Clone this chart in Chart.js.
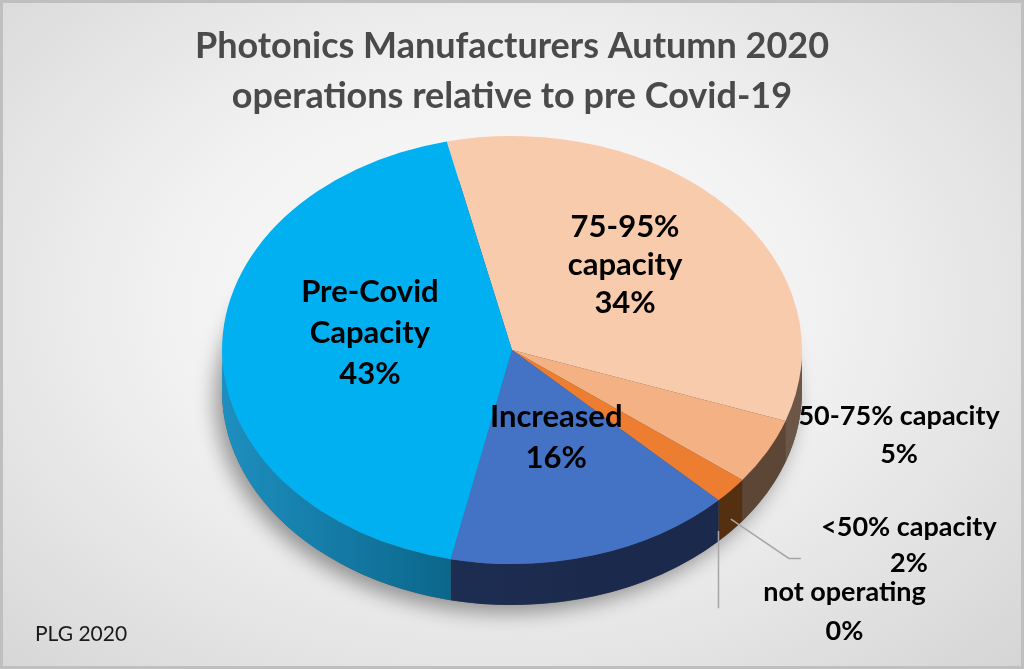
<!DOCTYPE html>
<html>
<head>
<meta charset="utf-8">
<script src="https://cdn.jsdelivr.net/npm/chart.js@4.4.0/dist/chart.umd.min.js"></script>
<style>
  html, body { margin: 0; padding: 0; }
  #wrap {
    position: relative; width: 1024px; height: 669px;
    background: radial-gradient(ellipse 72% 78% at 48% 45%, #fdfdfd 0%, #f1f1f1 45%, #d5d5d5 100%);
  }
  #frame {
    position: absolute; left: 0; top: 0; width: 1024px; height: 669px;
    box-sizing: border-box; border: 3px solid #bfbfbf; pointer-events: none;
  }
  canvas { position: absolute; left: 0; top: 0; }
</style>
</head>
<body>
<div id="wrap">
  <canvas id="chartPie" width="1024" height="669"></canvas>
  <div id="frame"></div>
</div>
<script>
// datos del grafico
const titleLines = ["Photonics Manufacturers Autumn 2020", "operations relative to pre Covid-19"];
const sourceNote = "PLG 2020";
const categories = ["75-95% capacity", "50-75% capacity", "<50% capacity", "not operating", "Increased", "Pre-Covid Capacity"];
const labelLines = [["75-95%", "capacity"], ["50-75% capacity"], ["<50% capacity"], ["not operating"], ["Increased"], ["Pre-Covid", "Capacity"]];
const shares = [34, 5, 2, 0, 16, 43];

// estilos
const topColors = ["#F8CBAD", "#F4B183", "#ED7D31", "#A5A5A5", "#4472C4", "#00B0F0"];
const sideColors = [
  ["#7d6657", "#6c5647"],
  ["#6e5444", "#5e4636"],
  ["#6b3c17", "#553010"],
  ["#555555", "#444444"],
  ["#21325c", "#1b2a4c"],
  ["#1d8fc0", "#004c68"],
];
const TILT = 0.738;   // aplastamiento vertical
const DEPTH = 41;     // grosor del pastel en px
// colocacion de etiquetas: f = fraccion del radio, dx/dy = ajuste en px
const labelPlacement = [
  { f: 0.523, dx: 0, dy: -10, size: 31, gap: 38 },
  { f: 1, dx: 132, dy: -16, size: 27, gap: 38 },
  { f: 1, dx: 178, dy: 55, size: 27, gap: 36, leader: "elbow" },
  { f: 1, dx: 126, dy: 112, size: 27, gap: 39, leader: "drop" },
  { f: 0.425, dx: 9, dy: 0, size: 31, gap: 41 },
  { f: 0.49, dx: 0, dy: -18, size: 31, gap: 41 },
];

const el = (id) => document.getElementById(id);

const pie3d = {
  id: "pie3d",
  beforeDatasetsDraw(chart) {
    const ctx = chart.ctx;
    const arcs = chart.getDatasetMeta(0).data;
    const { x, y, outerRadius: r } = arcs[0];
    const d = DEPTH / TILT;
    ctx.save();
    ctx.translate(x, y);
    ctx.scale(1, TILT);
    ctx.translate(-x, -y);
    // sombra
    ctx.save();
    ctx.shadowColor = "rgba(0,0,0,0.38)";
    ctx.shadowBlur = 20;
    ctx.shadowOffsetX = -7;
    ctx.shadowOffsetY = 8;
    ctx.beginPath();
    ctx.arc(x, y + d, r, 0, Math.PI * 2);
    ctx.fillStyle = "#555";
    ctx.fill();
    ctx.restore();
    // lados
    arcs.forEach((arc, i) => {
      const a0 = Math.max(arc.startAngle, 0);
      const a1 = Math.min(arc.endAngle, Math.PI);
      if (a1 <= a0) return;
      const g = ctx.createLinearGradient(x - r, 0, x + r * 0.3, 0);
      g.addColorStop(0, sideColors[i][0]);
      g.addColorStop(1, sideColors[i][1]);
      ctx.beginPath();
      ctx.arc(x, y, r, a0, a1);
      ctx.arc(x, y + d, r, a1, a0, true);
      ctx.closePath();
      ctx.fillStyle = g;
      ctx.fill();
    });
  },
  afterDatasetsDraw(chart) {
    chart.ctx.restore();
  },
  afterDraw(chart) {
    const ctx = chart.ctx;
    const arcs = chart.getDatasetMeta(0).data;
    ctx.save();
    ctx.textAlign = "center";
    ctx.textBaseline = "middle";
    // titulo
    ctx.fillStyle = "#4a4a4a";
    ctx.font = "bold 36px Lato";
    titleLines.forEach((t, i) => ctx.fillText(t, 512, 46 + i * 50));
    // etiquetas
    arcs.forEach((arc, i) => {
      const p = labelPlacement[i];
      const mid = (arc.startAngle + arc.endAngle) / 2;
      const r = arc.outerRadius;
      const rimX = arc.x + r * Math.cos(mid);
      const rimY = arc.y + r * TILT * Math.sin(mid);
      const cx = arc.x + p.f * r * Math.cos(mid) + p.dx;
      const cy = arc.y + p.f * r * TILT * Math.sin(mid) + p.dy;
      const lines = labelLines[i].concat([shares[i] + "%"]);
      if (p.leader) {
        ctx.strokeStyle = "#a6a6a6";
        ctx.lineWidth = 1.5;
        ctx.beginPath();
        if (p.leader === "elbow") {
          ctx.moveTo(rimX, rimY + DEPTH * 0.7);
          ctx.lineTo(cx - 120, cy + 13);
          ctx.lineTo(cx - 108, cy + 13);
        } else {
          ctx.moveTo(rimX, rimY + DEPTH * 0.75);
          ctx.lineTo(rimX, cy - 4);
        }
        ctx.stroke();
      }
      ctx.fillStyle = "#000000";
      ctx.font = "bold " + p.size + "px Lato";
      const y0 = cy - (p.gap * (lines.length - 1)) / 2;
      lines.forEach((t, j) => ctx.fillText(t, cx, y0 + j * p.gap));
    });
    // fuente
    ctx.textAlign = "left";
    ctx.fillStyle = "#1a1a1a";
    ctx.font = "21px Lato";
    ctx.fillText(sourceNote, 35, 634);
    ctx.restore();
  },
};

new Chart(el("chartPie").getContext("2d"), {
  type: "pie",
  data: {
    labels: categories,
    datasets: [{
      data: shares,
      backgroundColor: topColors,
      borderWidth: 0,
      clip: false,
    }],
  },
  options: {
    responsive: false,
    animation: false,
    rotation: -13,
    layout: { padding: { top: 60, bottom: 29, left: 222, right: 222 } },
    plugins: { legend: { display: false }, tooltip: { enabled: false } },
  },
  plugins: [pie3d],
});
</script>
</body>
</html>
